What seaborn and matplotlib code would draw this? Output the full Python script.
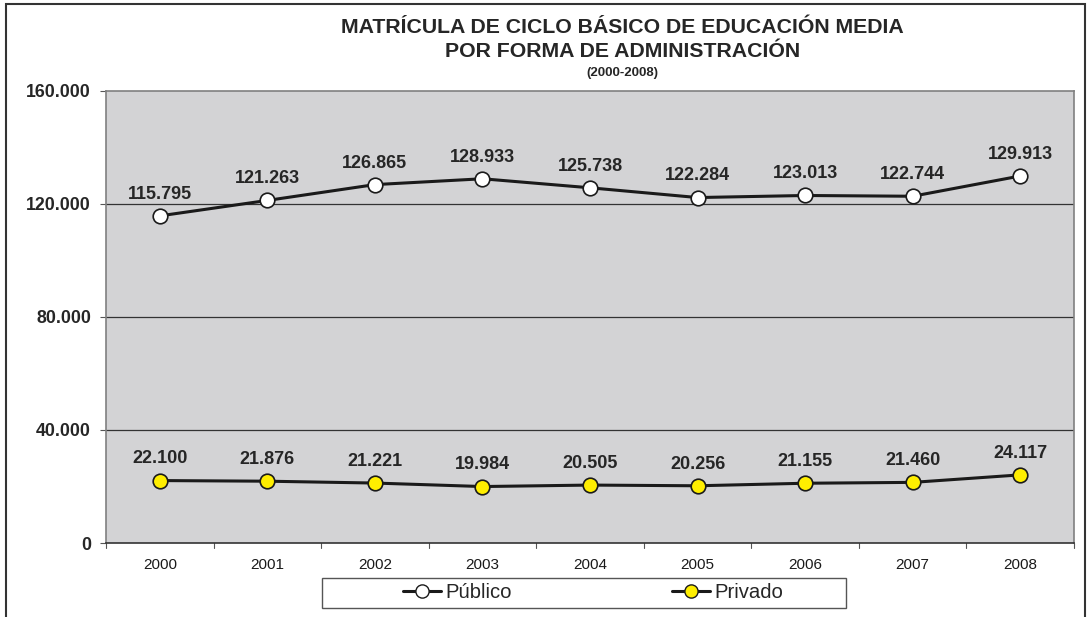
import matplotlib
matplotlib.use("Agg")
import matplotlib.pyplot as plt
import seaborn as sns
import pandas as pd
from matplotlib.patches import Rectangle
from matplotlib.lines import Line2D

years = ["2000", "2001", "2002", "2003", "2004", "2005", "2006", "2007", "2008"]
publico = [115795, 121263, 126865, 128933, 125738, 122284, 123013, 122744, 129913]
privado = [22100, 21876, 21221, 19984, 20505, 20256, 21155, 21460, 24117]
series_names = ["Público", "Privado"]
y_ticks = [0, 40000, 80000, 120000, 160000]
y_tick_labels = ["0", "40.000", "80.000", "120.000", "160.000"]

sns.set_theme(style="white")
plt.rcParams['font.family'] = ['Liberation Sans', 'DejaVu Sans']

df = pd.DataFrame({
    "x": list(range(len(years))) * 2,
    "valor": publico + privado,
    "serie": [series_names[0]] * len(years) + [series_names[1]] * len(years),
})

W, H = 1089, 617
fig = plt.figure(figsize=(W / 100, H / 100), dpi=100)
ax = fig.add_axes([106/W, 1 - 543/H, (1074-106)/W, (543-91)/H])
ax.set_facecolor("#d3d3d5")

sns.lineplot(data=df, x="x", y="valor", hue="serie", palette=["#1a1a1a", "#1a1a1a"],
             linewidth=2.2, legend=False, ax=ax, sort=False)
face = {"Público": "white", "Privado": "#ffee00"}
for line, name in zip(ax.get_lines(), series_names):
    line.set_marker("o")
    line.set_markersize(10.5)
    line.set_markerfacecolor(face[name])
    line.set_markeredgecolor("#1a1a1a")
    line.set_markeredgewidth(1.2)

def fmt(v):
    return f"{v:,}".replace(",", ".")

for vals in (publico, privado):
    for i, v in enumerate(vals):
        ax.annotate(fmt(v), (i, v), xytext=(0, 12.3), textcoords="offset points",
                    ha="center", va="baseline", fontsize=13, fontweight="bold", color="#262626")

ax.set_xlim(-0.5, len(years) - 0.5)
ax.set_ylim(0, 160000)
ax.set_yticks(y_ticks)
ax.set_yticklabels(y_tick_labels, fontsize=12.8, fontweight="bold", color="#262626")
ax.set_xticks(range(len(years)))
ax.set_xticklabels(years, fontsize=11, color="#1a1a1a")
ax.tick_params(axis="x", length=0, pad=10.5)
ax.tick_params(axis="y", length=4.3, width=0.8, color="#555555", left=True, pad=6.5)
for b in range(len(years) + 1):
    ax.plot([b - 0.5, b - 0.5], [0, -0.011], transform=ax.get_xaxis_transform(),
            color="#555555", lw=0.8, clip_on=False)
for yv in y_ticks[1:-1]:
    ax.axhline(yv, color="#333333", lw=0.9, zorder=0.5)
ax.set_xlabel("")
ax.set_ylabel("")
for s in ["top", "right", "left"]:
    ax.spines[s].set_color("#808080")
    ax.spines[s].set_linewidth(1.2)
ax.spines["bottom"].set_color("#333333")
ax.spines["bottom"].set_linewidth(1.2)

tx = 622.5 / W
fig.text(tx, 1 - 33/H, "MATRÍCULA DE CICLO BÁSICO DE EDUCACIÓN MEDIA", ha="center", va="baseline",
         fontsize=15.3, fontweight="bold", color="#262626")
fig.text(tx, 1 - 57/H, "POR FORMA DE ADMINISTRACIÓN", ha="center", va="baseline",
         fontsize=15.3, fontweight="bold", color="#262626")
fig.text(tx, 1 - 76/H, "(2000-2008)", ha="center", va="baseline",
         fontsize=9.5, fontweight="bold", color="#262626")

# legend box
fig.patches.append(Rectangle((322/W, 1 - 608/H), (846-322)/W, 30/H, transform=fig.transFigure,
                             facecolor="white", edgecolor="#555555", lw=1.0))
handles = [Line2D([], [], color="#1a1a1a", lw=2.2, marker="o", markersize=9.5,
                  markerfacecolor=face[n], markeredgecolor="#1a1a1a") for n in series_names]
leg = fig.legend(handles, series_names, loc="center", bbox_to_anchor=(593/W, 1 - 593/H),
                 ncol=2, frameon=False, fontsize=14.6, handlelength=1.87, columnspacing=7.9,
                 borderpad=0.0, handletextpad=0.22)

fig.patches.append(Rectangle((6/W, -0.05), (1085-6)/W, 1.05 - 4/H, transform=fig.transFigure,
                             fill=False, edgecolor="#333333", lw=1.5))

fig.savefig("out.png", dpi=100)
